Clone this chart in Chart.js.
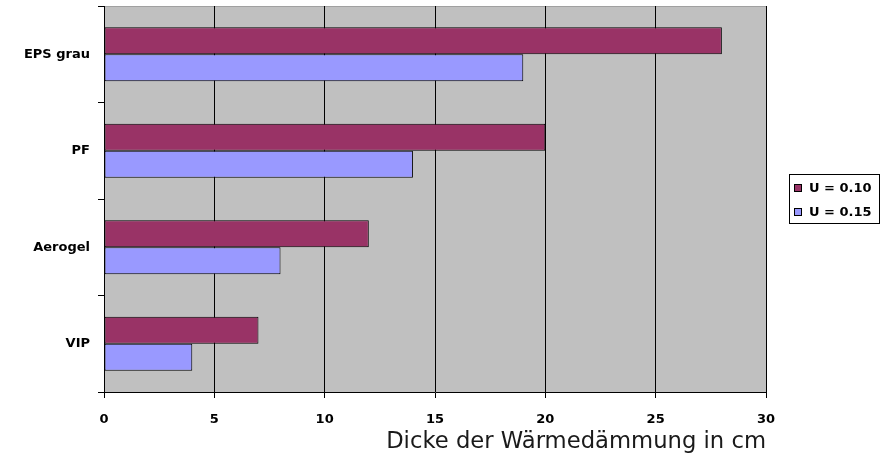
<!DOCTYPE html>
<html>
<head>
<meta charset="utf-8">
<script src="https://cdn.jsdelivr.net/npm/chart.js@4/dist/chart.umd.min.js"></script>
<style>
  html, body { margin: 0; padding: 0; background: #ffffff; }
  #wrap { width: 894px; height: 457px; }
</style>
</head>
<body>
<div id="wrap"><canvas id="c" width="894" height="457"></canvas></div>
<script>
const categories = ["EPS grau", "PF", "Aerogel", "VIP"];
const seriesU010 = [28, 20, 12, 7];
const seriesU015 = [19, 14, 8, 4];
const seriesLabels = ["U = 0.10", "U = 0.15"];
const xTitle = "Dicke der Wärmedämmung in cm";

const tickFont = { family: "DejaVu Sans", size: 13, weight: "bold" };

const plotBg = {
  id: "plotBg",
  beforeDraw(chart) {
    const { ctx, chartArea: a } = chart;
    ctx.save();
    ctx.fillStyle = "#C0C0C0";
    ctx.fillRect(a.left, a.top, a.right - a.left, a.bottom - a.top);
    ctx.strokeStyle = "#a0a0a0";
    ctx.lineWidth = 1;
    ctx.beginPath();
    ctx.moveTo(a.left, a.top + 0.5);
    ctx.lineTo(a.right, a.top + 0.5);
    ctx.stroke();
    ctx.restore();
  }
};

const boxLegend = {
  id: "boxLegend",
  afterDraw(chart) {
    const ctx = chart.ctx;
    ctx.save();
    ctx.fillStyle = "#ffffff";
    ctx.fillRect(789, 174, 90, 49);
    ctx.strokeStyle = "#000000";
    ctx.lineWidth = 1;
    ctx.strokeRect(789.5, 174.5, 90, 49);
    ctx.font = "bold 13px 'DejaVu Sans'";
    ctx.textBaseline = "middle";
    ctx.textAlign = "left";
    chart.data.datasets.forEach((ds, i) => {
      const cy = 188 + i * 24;
      ctx.fillStyle = ds.backgroundColor;
      ctx.fillRect(794, cy - 4, 8, 8);
      ctx.strokeStyle = "#000000";
      ctx.strokeRect(794.5, cy - 3.5, 7, 7);
      ctx.fillStyle = "#000000";
      ctx.fillText(ds.label, 809, cy + 1);
    });
    ctx.restore();
  }
};

new Chart(document.getElementById("c"), {
  type: "bar",
  data: {
    labels: categories,
    datasets: [
      { label: seriesLabels[0], data: seriesU010, backgroundColor: "#993366", borderColor: "#000000", borderWidth: 1, borderSkipped: false },
      { label: seriesLabels[1], data: seriesU015, backgroundColor: "#9999FF", borderColor: "#000000", borderWidth: 1, borderSkipped: false }
    ]
  },
  options: {
    indexAxis: "y",
    responsive: false,
    animation: false,
    devicePixelRatio: 1,
    datasets: { bar: { categoryPercentage: 0.56, barPercentage: 1.0 } },
    layout: { padding: { top: 6, right: 128, left: 0, bottom: 0 } },
    plugins: { legend: { display: false }, tooltip: { enabled: false } },
    scales: {
      x: {
        position: "bottom",
        min: 0, max: 30,
        ticks: { stepSize: 5, font: tickFont, color: "#000000", padding: 14, maxRotation: 0 },
        grid: { color: "#000000", lineWidth: 1, tickLength: 6, drawTicks: true },
        border: { color: "#000000", width: 1 },
        title: { display: true, text: xTitle, align: "end", color: "#1a1a1a",
                 font: { family: "DejaVu Sans", size: 22.7 }, padding: { top: 0, bottom: 1 } },
        afterFit(scale) { scale.height = 65; }
      },
      y: {
        ticks: { font: tickFont, color: "#000000", padding: 8 },
        grid: { drawOnChartArea: false, drawTicks: true, tickLength: 6, color: "#000000", offset: true },
        border: { color: "#000000", width: 1 },
        afterFit(scale) { scale.width = 104; scale.paddingTop = 0; scale.paddingBottom = 0; }
      }
    }
  },
  plugins: [plotBg, boxLegend]
});
</script>
</body>
</html>
